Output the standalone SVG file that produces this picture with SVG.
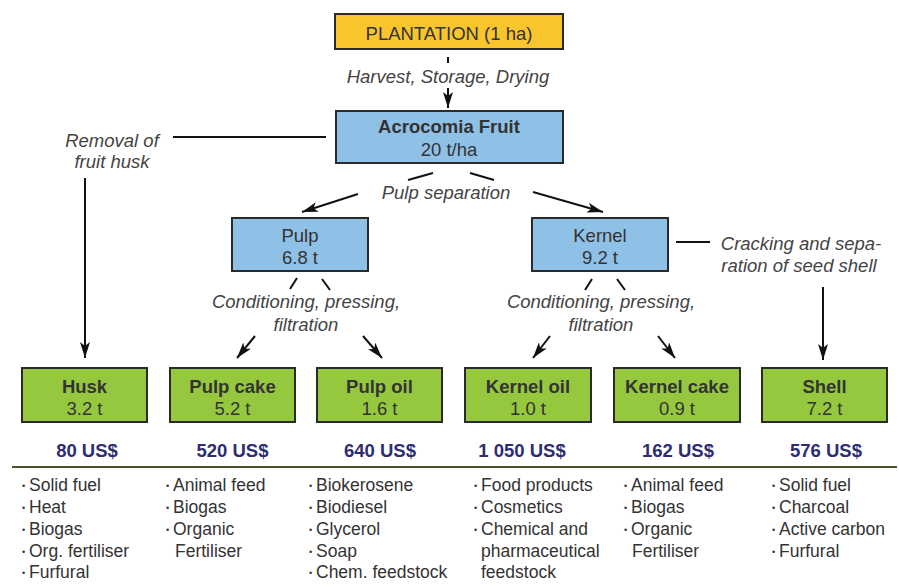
<svg xmlns="http://www.w3.org/2000/svg" width="899" height="587" viewBox="0 0 899 587">
<defs>
<marker id="ah" viewBox="0 0 16 10" refX="16" refY="5" markerWidth="16" markerHeight="10" markerUnits="userSpaceOnUse" orient="auto">
<path d="M0,0 L16,5 L0,10 L4,5 z" fill="#111"/>
</marker>
<style>
text{font-family:"Liberation Sans",Arial,sans-serif;fill:#333;}
.box{stroke:#2a2a2a;stroke-width:2;}
.y{fill:#f8c52d;}
.b{fill:#8fc0e6;}
.g{fill:#95c83e;}
.t{font-size:18.5px;text-anchor:middle;}
.bd{font-weight:bold;}
.it{font-size:18.5px;font-style:italic;fill:#444;text-anchor:middle;}
.pr{font-size:18.5px;font-weight:bold;fill:#2e2d72;text-anchor:middle;}
.ls{font-size:17.5px;fill:#333;}
.bu{font-size:9px;}
.ln{stroke:#111;stroke-width:2;fill:none;}
.ar{stroke:#111;stroke-width:2;fill:none;marker-end:url(#ah);}
</style>
</defs>
<rect width="899" height="587" fill="#fff"/>

<g id="connectors">
<line class="ln" x1="448" y1="57" x2="448" y2="63"/>
<line class="ar" x1="448" y1="88" x2="448" y2="108"/>
<line class="ln" x1="173" y1="137" x2="326" y2="137"/>
<line class="ar" x1="85" y1="178" x2="85" y2="358"/>
<line class="ln" x1="408" y1="180" x2="433" y2="173"/>
<line class="ln" x1="470" y1="173" x2="494" y2="180"/>
<line class="ar" x1="358" y1="194" x2="302" y2="212"/>
<line class="ar" x1="533" y1="192" x2="603" y2="212"/>
<line class="ln" x1="297" y1="278" x2="290" y2="289"/>
<line class="ln" x1="322" y1="279" x2="330" y2="290"/>
<line class="ar" x1="255" y1="336" x2="237" y2="358"/>
<line class="ar" x1="363" y1="336" x2="382" y2="358"/>
<line class="ln" x1="592" y1="279" x2="585" y2="290"/>
<line class="ln" x1="617" y1="279" x2="625" y2="290"/>
<line class="ar" x1="550" y1="336" x2="533" y2="358"/>
<line class="ar" x1="658" y1="336" x2="675" y2="358"/>
<line class="ln" x1="676" y1="242" x2="710" y2="242"/>
<line class="ar" x1="823" y1="287" x2="823" y2="360"/>
</g>

<g id="labels">
<text class="it" x="448" y="83">Harvest, Storage, Drying</text>
<text class="it" x="112" y="147">Removal of</text>
<text class="it" x="112" y="168">fruit husk</text>
<text class="it" x="446" y="199">Pulp separation</text>
<text class="it" x="306" y="308">Conditioning, pressing,</text>
<text class="it" x="306" y="331">filtration</text>
<text class="it" x="601" y="308">Conditioning, pressing,</text>
<text class="it" x="601" y="331">filtration</text>
<text class="it" x="801" y="250">Cracking and sepa-</text>
<text class="it" x="799" y="272">ration of seed shell</text>
</g>

<g id="plantation">
<rect class="box y" x="335" y="14" width="228" height="35"/>
<text class="t" x="449" y="40">PLANTATION (1 ha)</text>
</g>
<g id="fruit">
<rect class="box b" x="336" y="111" width="227" height="52"/>
<text class="t bd" x="449" y="133">Acrocomia Fruit</text>
<text class="t" x="449" y="156">20 t/ha</text>
</g>
<g id="pulp">
<rect class="box b" x="232" y="218" width="136" height="53"/>
<text class="t" x="300" y="242">Pulp</text>
<text class="t" x="300" y="264">6.8 t</text>
</g>
<g id="kernel">
<rect class="box b" x="532" y="218" width="136" height="53"/>
<text class="t" x="600" y="242">Kernel</text>
<text class="t" x="600" y="264">9.2 t</text>
</g>

<g id="husk">
<rect class="box g" x="22" y="368" width="125" height="54"/>
<text class="t bd" x="84.5" y="393">Husk</text>
<text class="t" x="84.5" y="415">3.2 t</text>
<text class="pr" x="87" y="457">80 US$</text>
</g>
<g id="pulpcake">
<rect class="box g" x="170" y="368" width="125" height="54"/>
<text class="t bd" x="232.5" y="393">Pulp cake</text>
<text class="t" x="232.5" y="415">5.2 t</text>
<text class="pr" x="232.5" y="457">520 US$</text>
</g>
<g id="pulpoil">
<rect class="box g" x="317" y="368" width="125" height="54"/>
<text class="t bd" x="379.5" y="393">Pulp oil</text>
<text class="t" x="379.5" y="415">1.6 t</text>
<text class="pr" x="380" y="457">640 US$</text>
</g>
<g id="kerneloil">
<rect class="box g" x="465" y="368" width="126" height="54"/>
<text class="t bd" x="528" y="393">Kernel oil</text>
<text class="t" x="528" y="415">1.0 t</text>
<text class="pr" x="522" y="457">1 050 US$</text>
</g>
<g id="kernelcake">
<rect class="box g" x="614" y="368" width="126" height="54"/>
<text class="t bd" x="677" y="393">Kernel cake</text>
<text class="t" x="677" y="415">0.9 t</text>
<text class="pr" x="678" y="457">162 US$</text>
</g>
<g id="shell">
<rect class="box g" x="762" y="368" width="125" height="54"/>
<text class="t bd" x="824.5" y="393">Shell</text>
<text class="t" x="824.5" y="415">7.2 t</text>
<text class="pr" x="826" y="457">576 US$</text>
</g>

<line x1="12" y1="467" x2="897" y2="467" stroke="#48552e" stroke-width="2"/>

<g id="uses">
<text class="ls"><tspan class="bu" x="22" y="489">•</tspan><tspan x="29" y="491">Solid fuel</tspan></text>
<text class="ls"><tspan class="bu" x="22" y="511">•</tspan><tspan x="29" y="513">Heat</tspan></text>
<text class="ls"><tspan class="bu" x="22" y="533">•</tspan><tspan x="29" y="535">Biogas</tspan></text>
<text class="ls"><tspan class="bu" x="22" y="555">•</tspan><tspan x="29" y="557">Org. fertiliser</tspan></text>
<text class="ls"><tspan class="bu" x="22" y="576">•</tspan><tspan x="29" y="578">Furfural</tspan></text>

<text class="ls"><tspan class="bu" x="166" y="489">•</tspan><tspan x="173" y="491">Animal feed</tspan></text>
<text class="ls"><tspan class="bu" x="166" y="511">•</tspan><tspan x="173" y="513">Biogas</tspan></text>
<text class="ls"><tspan class="bu" x="166" y="533">•</tspan><tspan x="173" y="535">Organic</tspan></text>
<text class="ls" x="175" y="557">Fertiliser</text>

<text class="ls"><tspan class="bu" x="309" y="489">•</tspan><tspan x="316" y="491">Biokerosene</tspan></text>
<text class="ls"><tspan class="bu" x="309" y="511">•</tspan><tspan x="316" y="513">Biodiesel</tspan></text>
<text class="ls"><tspan class="bu" x="309" y="533">•</tspan><tspan x="316" y="535">Glycerol</tspan></text>
<text class="ls"><tspan class="bu" x="309" y="555">•</tspan><tspan x="316" y="557">Soap</tspan></text>
<text class="ls"><tspan class="bu" x="309" y="576">•</tspan><tspan x="316" y="578">Chem. feedstock</tspan></text>

<text class="ls"><tspan class="bu" x="474" y="489">•</tspan><tspan x="481" y="491">Food products</tspan></text>
<text class="ls"><tspan class="bu" x="474" y="511">•</tspan><tspan x="481" y="513">Cosmetics</tspan></text>
<text class="ls"><tspan class="bu" x="474" y="533">•</tspan><tspan x="481" y="535">Chemical and</tspan></text>
<text class="ls" x="481" y="557">pharmaceutical</text>
<text class="ls" x="481" y="578">feedstock</text>

<text class="ls"><tspan class="bu" x="624" y="489">•</tspan><tspan x="631" y="491">Animal feed</tspan></text>
<text class="ls"><tspan class="bu" x="624" y="511">•</tspan><tspan x="631" y="513">Biogas</tspan></text>
<text class="ls"><tspan class="bu" x="624" y="533">•</tspan><tspan x="631" y="535">Organic</tspan></text>
<text class="ls" x="632" y="557">Fertiliser</text>

<text class="ls"><tspan class="bu" x="772" y="489">•</tspan><tspan x="779" y="491">Solid fuel</tspan></text>
<text class="ls"><tspan class="bu" x="772" y="511">•</tspan><tspan x="779" y="513">Charcoal</tspan></text>
<text class="ls"><tspan class="bu" x="772" y="533">•</tspan><tspan x="779" y="535">Active carbon</tspan></text>
<text class="ls"><tspan class="bu" x="772" y="555">•</tspan><tspan x="779" y="557">Furfural</tspan></text>
</g>
</svg>
